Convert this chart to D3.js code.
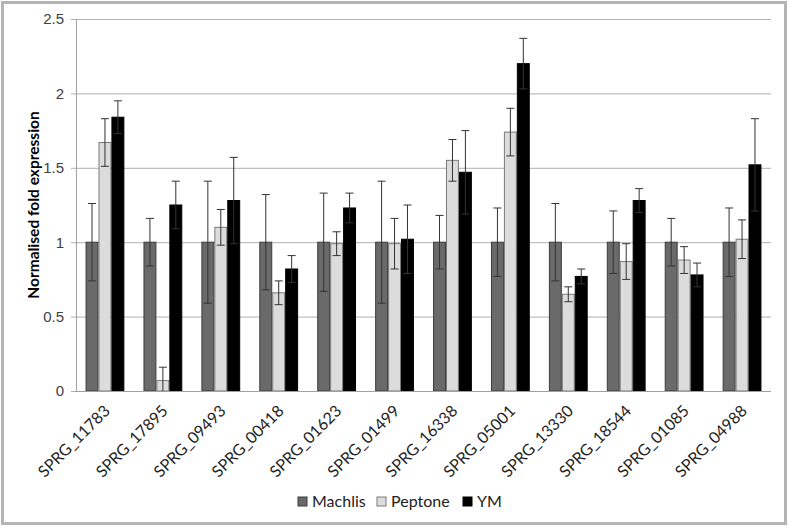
<!DOCTYPE html>
<html>
<head>
<meta charset="utf-8">
<script src="https://cdn.jsdelivr.net/npm/d3@7"></script>
<style>
  body { margin: 0; background: #fff; }
  svg { font-family: Lato, "Open Sans", sans-serif; }
</style>
</head>
<body>
<div id="chart"></div>
<script>
var genes = ["SPRG_11783", "SPRG_17895", "SPRG_09493", "SPRG_00418", "SPRG_01623", "SPRG_01499",
             "SPRG_16338", "SPRG_05001", "SPRG_13330", "SPRG_18544", "SPRG_01085", "SPRG_04988"];
var seriesNames = ["Machlis", "Peptone", "YM"];

var machlis    = [1, 1, 1, 1, 1, 1, 1, 1, 1, 1, 1, 1];
var machlisErr = [0.26, 0.16, 0.41, 0.32, 0.33, 0.41, 0.18, 0.23, 0.26, 0.21, 0.16, 0.23];
var peptone    = [1.67, 0.07, 1.10, 0.66, 0.99, 0.99, 1.55, 1.74, 0.65, 0.87, 0.88, 1.02];
var peptoneErr = [0.16, 0.09, 0.12, 0.08, 0.08, 0.17, 0.14, 0.16, 0.05, 0.12, 0.09, 0.13];
var ym         = [1.84, 1.25, 1.28, 0.82, 1.23, 1.02, 1.47, 2.20, 0.77, 1.28, 0.78, 1.52];
var ymErr      = [0.11, 0.16, 0.29, 0.09, 0.10, 0.23, 0.28, 0.17, 0.05, 0.08, 0.08, 0.31];
var yTicks     = [0, 0.5, 1, 1.5, 2, 2.5];

var colors = ["#6a6a6a", "#dcdcdc", "#000000"];
var outlines = ["#3c3c3c", "#7a7a7a", "#000000"];

var W = 790, H = 528,
    margin = {left: 76, right: 19, top: 19, bottom: 137};

var svg = d3.select("#chart").append("svg").attr("width", W).attr("height", H);

svg.append("rect")
  .attr("x", 2.5).attr("y", 2.5)
  .attr("width", 783).attr("height", 521)
  .attr("fill", "#fff").attr("stroke", "#b4b4b4").attr("stroke-width", 3);

var x0 = d3.scaleBand().domain(genes).range([margin.left, W - margin.right]).paddingInner(0.33).paddingOuter(0.165);
var x1 = d3.scaleBand().domain(seriesNames).range([0, x0.bandwidth()]);
var y = d3.scaleLinear().domain([0, 2.5]).range([H - margin.bottom, margin.top]);

var data = genes.map(function (g, i) {
  return [
    {gene: g, s: 0, v: machlis[i], e: machlisErr[i]},
    {gene: g, s: 1, v: peptone[i], e: peptoneErr[i]},
    {gene: g, s: 2, v: ym[i], e: ymErr[i]}
  ];
});

// grid lines
var yAxis = d3.axisLeft(y).tickValues(yTicks).tickSize(-(W - margin.right - margin.left))
  .tickPadding(12).tickFormat(function (d) { return d; });
var gy = svg.append("g").attr("transform", "translate(" + margin.left + ",0)").call(yAxis);
gy.select(".domain").attr("stroke", "#a0a0a0");
gy.selectAll(".tick line").attr("stroke", "#b0b0b0").attr("x1", -5);
gy.selectAll(".tick text").attr("fill", "#404040").style("font-size", "15px");

// left axis line
svg.append("line")
  .attr("x1", margin.left + 0.5).attr("x2", margin.left + 0.5)
  .attr("y1", y(2.5)).attr("y2", y(0))
  .attr("stroke", "#a0a0a0");

var groups = svg.append("g").selectAll("g").data(data).enter().append("g")
  .attr("transform", function (d, i) { return "translate(" + x0(genes[i]) + ",0)"; });

groups.selectAll("rect").data(function (d) { return d; }).enter().append("rect")
  .attr("x", function (d) { return x1(seriesNames[d.s]) + 0.5; })
  .attr("width", x1.bandwidth() - 1)
  .attr("y", function (d) { return y(d.v); })
  .attr("height", function (d) { return y(0) - y(d.v); })
  .attr("fill", function (d) { return colors[d.s]; })
  .attr("stroke", function (d) { return outlines[d.s]; })
  .attr("stroke-width", 1);

// error bars
var eb = groups.selectAll("g.err").data(function (d) { return d; }).enter().append("g")
  .attr("class", "err")
  .attr("transform", function (d) { return "translate(" + (x1(seriesNames[d.s]) + x1.bandwidth() / 2) + ",0)"; });
eb.append("line")
  .attr("x1", 0).attr("x2", 0)
  .attr("y1", function (d) { return y(d.v + d.e); })
  .attr("y2", function (d) { return y(Math.max(0, d.v - d.e)); })
  .attr("stroke", "#333");
eb.append("line")
  .attr("x1", -4).attr("x2", 4)
  .attr("y1", function (d) { return y(d.v + d.e); })
  .attr("y2", function (d) { return y(d.v + d.e); })
  .attr("stroke", "#333");
eb.filter(function (d) { return d.v - d.e > 0; }).append("line")
  .attr("x1", -4).attr("x2", 4)
  .attr("y1", function (d) { return y(d.v - d.e); })
  .attr("y2", function (d) { return y(d.v - d.e); })
  .attr("stroke", "#333");

// bottom axis
svg.append("line")
  .attr("x1", margin.left).attr("x2", W - margin.right)
  .attr("y1", y(0) + 0.5).attr("y2", y(0) + 0.5)
  .attr("stroke", "#a0a0a0");

svg.append("g").selectAll("text").data(genes).enter().append("text")
  .attr("transform", function (d) {
    return "translate(" + (x0(d) + x0.bandwidth() / 2 + 6) + "," + (y(0) + 21) + ") rotate(-45)";
  })
  .attr("text-anchor", "end")
  .attr("fill", "#222")
  .style("font-size", "16px")
  .text(function (d) { return d; });

// y title
svg.append("text")
  .attr("transform", "translate(39," + ((y(0) + y(2.5)) / 2) + ") rotate(-90)")
  .attr("text-anchor", "middle")
  .style("font-size", "15.5px").style("font-weight", "bold")
  .attr("fill", "#000")
  .text("Normalised fold expression");

// legend
var legX = [298, 377, 463];
var leg = svg.append("g").selectAll("g").data(seriesNames).enter().append("g")
  .attr("transform", function (d, i) { return "translate(" + legX[i] + ",497)"; });
leg.append("rect")
  .attr("width", 9).attr("height", 9)
  .attr("fill", function (d, i) { return colors[i]; })
  .attr("stroke", function (d, i) { return outlines[i]; });
leg.append("text")
  .attr("x", 14).attr("y", 10)
  .style("font-size", "16px").attr("fill", "#222")
  .text(function (d) { return d; });
</script>
</body>
</html>
